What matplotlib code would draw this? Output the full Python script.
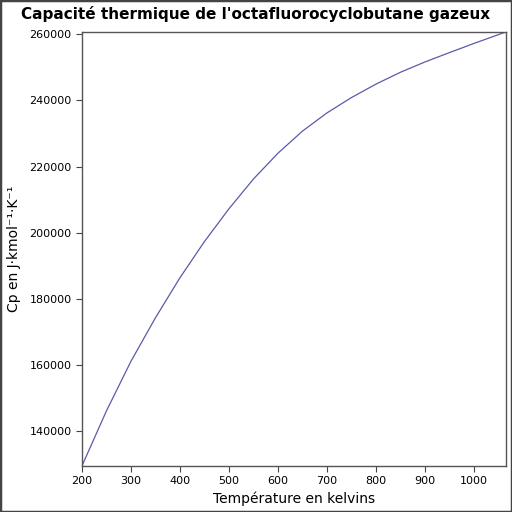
import matplotlib
matplotlib.use("Agg")
import matplotlib.pyplot as plt
from matplotlib.patches import Rectangle

# Temperature (K) and heat capacity (J/kmol/K)
temperature = [200, 250, 300, 350, 400, 450, 500, 550, 600, 650, 700,
               750, 800, 850, 900, 950, 1000, 1050, 1065]
cp = [129500, 146150, 161140, 174300, 186400, 197350, 207250, 216250,
      224050, 230725, 236230, 240870, 244930, 248520, 251630, 254460,
      257225, 259895, 260680]
y_ticks = [140000, 160000, 180000, 200000, 220000, 240000, 260000]
x_ticks = [200, 300, 400, 500, 600, 700, 800, 900, 1000]

title = "Capacité thermique de l'octafluorocyclobutane gazeux"
xlabel = "Température en kelvins"
ylabel = "Cp en J·kmol⁻¹·K⁻¹"

plt.rcParams['font.family'] = ['DejaVu Sans']

fig = plt.figure(figsize=(5.12, 5.12), dpi=100)
ax = fig.add_axes([0.160, 0.0898, 0.828, 0.8477])

ax.plot(temperature, cp, color='#5a5aa8', linewidth=0.9)
ax.set_xlim(min(temperature), max(temperature))
ax.set_ylim(min(cp), max(cp))
ax.set_xticks(x_ticks)
ax.set_yticks(y_ticks)
ax.tick_params(labelsize=8, length=4, width=0.8, color='#444444')
for s in ax.spines.values():
    s.set_color('#555555')
    s.set_linewidth(1.0)

ax.set_xlabel(xlabel, fontsize=10, labelpad=4)
ax.set_ylabel(ylabel, fontsize=10, labelpad=6)
fig.text(0.5, 0.972, title, ha='center', va='center', fontsize=11,
         fontweight='bold')

fig.patches.append(Rectangle((0, 0), 1, 1, transform=fig.transFigure,
                             fill=False, edgecolor='#444444', linewidth=2.5))

fig.savefig("out.png", dpi=100)
